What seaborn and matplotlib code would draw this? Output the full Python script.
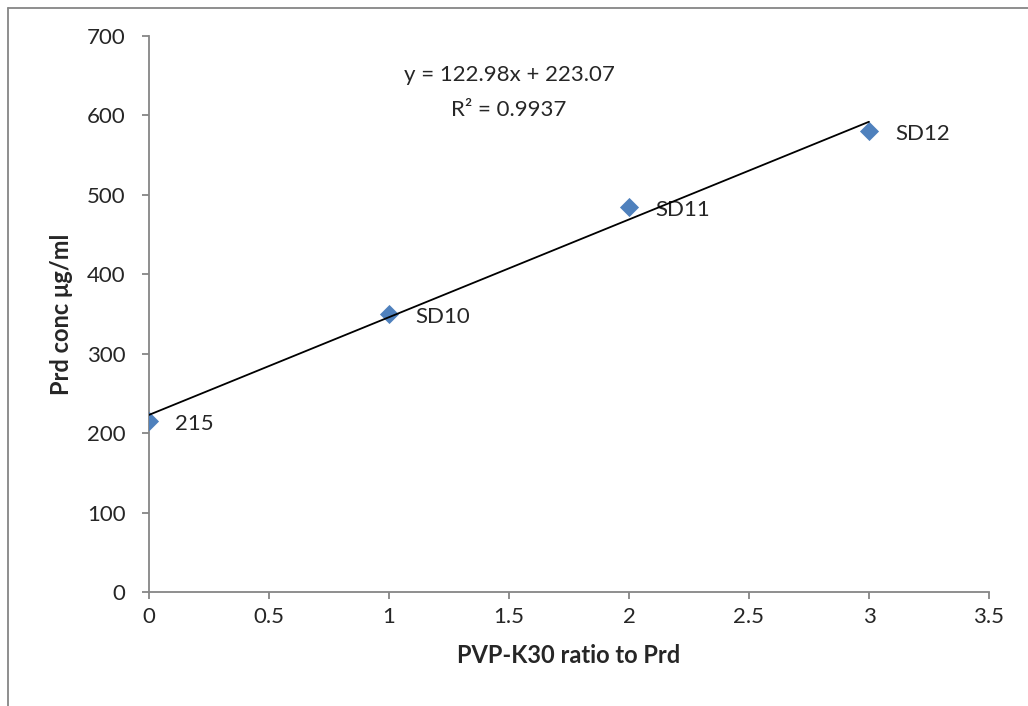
import matplotlib
matplotlib.use("Agg")
import matplotlib.pyplot as plt
from matplotlib.lines import Line2D
from matplotlib.ticker import FuncFormatter, MultipleLocator
import seaborn as sns
import pandas as pd

ratio = [0, 1, 2, 3]
conc = [215, 350, 485, 580]
labels = ["215", "SD10", "SD11", "SD12"]
equation = "y = 122.98x + 223.07"
r_squared = "R² = 0.9937"

df = pd.DataFrame({"ratio": ratio, "conc": conc})

sns.set_style("white")
plt.rcParams["font.family"] = ["Lato", "DejaVu Sans"]

fig = plt.figure(figsize=(10.28, 7.06), dpi=100)
ax = fig.add_axes([0.145, 0.1615, 0.817, 0.7875])

sns.regplot(data=df, x="ratio", y="conc", ax=ax, ci=None,
            marker="D", color="#4F81BD",
            scatter_kws={"s": 95, "alpha": 1, "zorder": 3, "linewidths": 0},
            line_kws={"color": "black", "lw": 1.3, "zorder": 4})

for x, y, lab in zip(ratio, conc, labels):
    ax.annotate(lab, (x, y), xytext=(19, -2), textcoords="offset points",
                ha="left", va="center", fontsize=16, zorder=2)

ax.text(1.5, 651, equation, ha="center", va="center", fontsize=16)
ax.text(1.5, 607, r_squared, ha="center", va="center", fontsize=16)

ax.set_xlim(0, 3.5)
ax.set_ylim(0, 700)
ax.xaxis.set_major_locator(MultipleLocator(0.5))
ax.yaxis.set_major_locator(MultipleLocator(100))
ax.xaxis.set_major_formatter(FuncFormatter(lambda v, p: f"{v:g}"))

for side in ["top", "right"]:
    ax.spines[side].set_visible(False)
for side in ["left", "bottom"]:
    ax.spines[side].set_color("#868686")
    ax.spines[side].set_linewidth(1.3)
ax.tick_params(axis="both", direction="out", length=5, width=1.3,
               color="#868686", labelsize=16)
ax.tick_params(axis="y", pad=12, left=True)
ax.tick_params(axis="x", pad=6, bottom=True)

ax.set_xlabel("PVP-K30 ratio to Prd", fontsize=17, fontweight="bold", labelpad=12)
ax.set_ylabel("Prd conc μg/ml", fontsize=17, fontweight="bold", labelpad=10)

# outer chart border (left and top visible)
fig.add_artist(Line2D([7.5 / 1028, 7.5 / 1028], [0, 1 - 7.5 / 706],
                      color="#868686", lw=1.3, transform=fig.transFigure))
fig.add_artist(Line2D([7.5 / 1028, 1], [1 - 7.5 / 706, 1 - 7.5 / 706],
                      color="#868686", lw=1.3, transform=fig.transFigure))

fig.savefig("out.png", dpi=100)
